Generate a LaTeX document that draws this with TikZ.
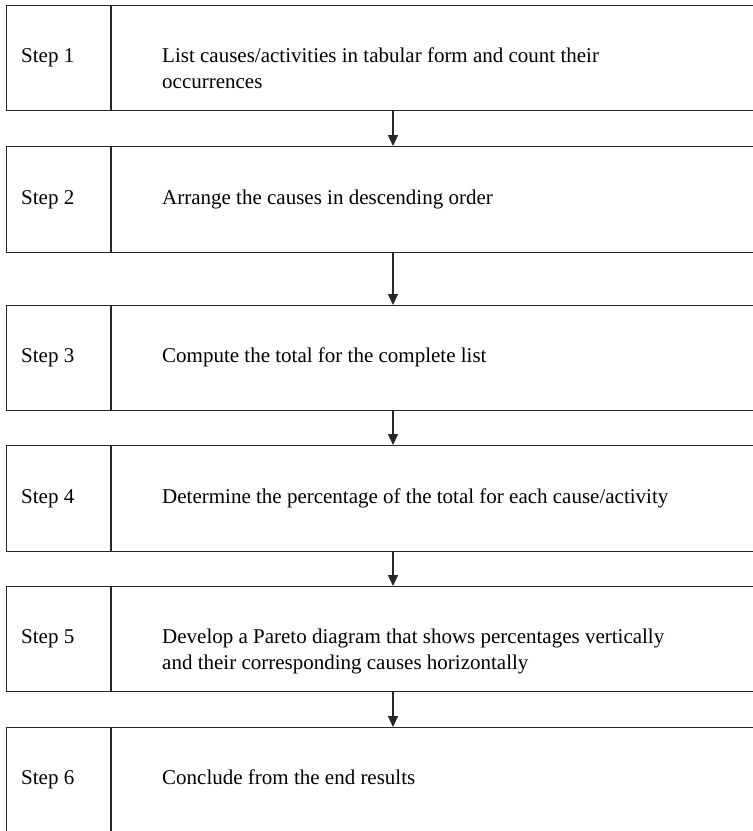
\documentclass[tikz,border=0pt]{standalone}
\usepackage{fontspec}
\setmainfont{Liberation Serif}
\usetikzlibrary{arrows.meta}
\begin{document}
\begin{tikzpicture}[x=1pt, y=-1pt,
  stepbox/.style={draw=black!85, line width=1.1pt, anchor=north west,
    minimum width=900pt, inner sep=0pt},
  steplabel/.style={anchor=base west, inner sep=0pt, font=\fontsize{21}{26}\selectfont},
  steptext/.style={anchor=base west, inner sep=0pt, font=\fontsize{21}{26}\selectfont},
  divider/.style={draw=black!85, line width=1.1pt},
  flow/.style={draw=black!85, line width=1.1pt, -{Triangle[width=10pt,length=11pt]}}]
\useasboundingbox (0,0) rectangle (753,831);
\clip (0,0) rectangle (753,831);

% column guides
\coordinate (dx) at (111,0);
\coordinate (sx) at (21,0);
\coordinate (tx) at (162,0);
\coordinate (ax) at (393,0);

% the six step boxes
\node[stepbox, minimum height=105pt] (b1) at (6,5) {};
\node[stepbox, minimum height=106pt] (b2) at (6,146) {};
\node[stepbox, minimum height=105pt] (b3) at (6,305) {};
\node[stepbox, minimum height=106pt] (b4) at (6,445) {};
\node[stepbox, minimum height=105pt] (b5) at (6,586) {};
\node[stepbox, minimum height=160pt] (b6) at (6,727) {};

% dividers between step number and description
\foreach \b in {b1,b2,b3,b4,b5}
  \draw[divider] (\b.north west -| dx) -- (\b.south west -| dx);
\draw[divider] (b6.north west -| dx) -- (dx |- 0,840);

% baselines of the first text line in each box
\foreach \b in {1,...,5}
  \coordinate (l\b) at ([yshift=-4.5pt]b\b.west);
\coordinate (l6) at ([yshift=-4.5pt]b6.north west |- 0,779.5);

% labels
\node[steplabel] (s1) at (l1 -| sx) {Step 1};
\node[steplabel] (s2) at (l2 -| sx) {Step 2};
\node[steplabel] (s3) at (l3 -| sx) {Step 3};
\node[steplabel] (s4) at (l4 -| sx) {Step 4};
\node[steplabel] (s5) at (l5 -| sx) {Step 5};
\node[steplabel] (s6) at (l6 -| sx) {Step 6};

% descriptions
\node[steptext] (t1) at (l1 -| tx) {List causes/activities in tabular form and count their};
\node[steptext] (t1b) at ([yshift=-26pt]t1.base west) {occurrences};
\node[steptext] (t2) at (l2 -| tx) {Arrange the causes in descending order};
\node[steptext] (t3) at (l3 -| tx) {Compute the total for the complete list};
\node[steptext] (t4) at (l4 -| tx) {Determine the percentage of the total for each cause/activity};
\node[steptext] (t5) at (l5 -| tx) {Develop a Pareto diagram that shows percentages vertically};
\node[steptext] (t5b) at ([yshift=-26pt]t5.base west) {and their corresponding causes horizontally};
\node[steptext] (t6) at (l6 -| tx) {Conclude from the end results};

% connectors
\draw[flow] (b1.south -| ax) -- (b2.north -| ax);
\draw[flow] (b2.south -| ax) -- (b3.north -| ax);
\draw[flow] (b3.south -| ax) -- (b4.north -| ax);
\draw[flow] (b4.south -| ax) -- (b5.north -| ax);
\draw[flow] (b5.south -| ax) -- (b6.north -| ax);
\end{tikzpicture}
\end{document}
